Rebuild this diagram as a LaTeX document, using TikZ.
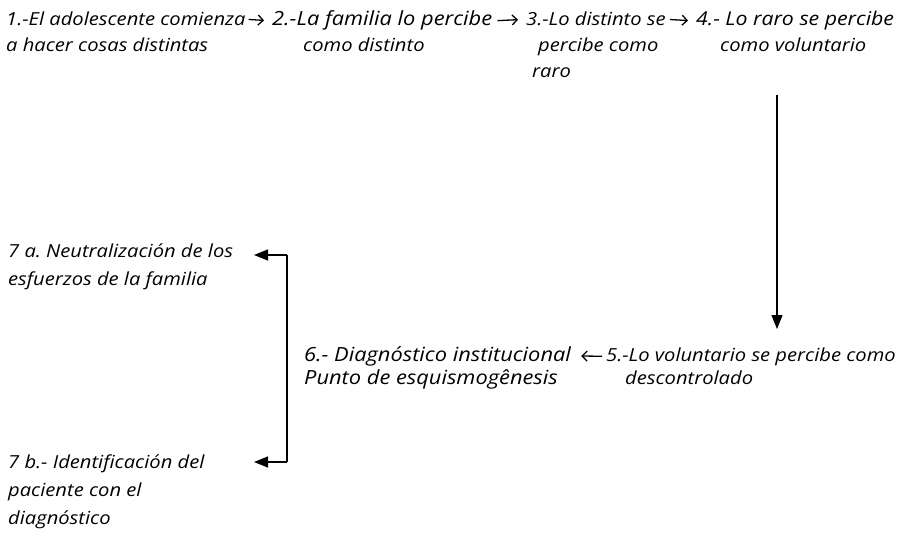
\documentclass[tikz,border=0pt]{standalone}
\usepackage{fontspec}
\setmainfont{Open Sans}[FakeStretch=1.12]
\usetikzlibrary{arrows.meta}
\tikzset{
  txt/.style={anchor=base west, inner sep=0pt, font=\itshape\fontsize{18}{22}\selectfont},
  txtl/.style={anchor=base west, inner sep=0pt, font=\itshape\fontsize{19.5}{22}\selectfont},
  txtm/.style={anchor=base west, inner sep=0pt, font=\itshape\fontsize{19}{22}\selectfont},
  tarr/.style={-{Straight Barb[length=5pt,width=10pt]}, line width=1.3pt},
  tri/.style={-{Triangle[length=14pt,width=11pt]}, line width=1.2pt},
  ln/.style={line width=1.2pt}
}
\begin{document}
\begin{tikzpicture}[x=1pt,y=-1pt]
\useasboundingbox (0,0) rectangle (901,537);
\node[txt] (n1a) at (6,26) {1.-El adolescente comienza};
\node[txt] (n1b) at (6,52) {a hacer cosas distintas};
\node[txtl] (n2a) at (272,26) {2.-La familia lo percibe};
\node[txt] (n2b) at (303,52) {como distinto};
\node[txt] (n3a) at (526,26) {3.-Lo distinto se};
\node[txt] (n3b) at (538,52) {percibe como};
\node[txt] (n3c) at (532,78) {raro};
\node[txtm] (n4a) at (696,26) {4.- Lo raro se percibe};
\node[txt] (n4b) at (720,52) {como voluntario};
\node[txt] (n5a) at (606,361) {5.-Lo voluntario se percibe como};
\node[txt] (n5b) at (625,384) {descontrolado};
\node[txtl] (n6a) at (304,361) {6.- Diagnóstico institucional};
\node[txtl] (n6b) at (304,384) {Punto de esquismogênesis};
\node[txt] (n7a1) at (8,258) {7 a.\ Neutralización de los};
\node[txt] (n7a2) at (8,285) {esfuerzos de la familia};
\node[txt] (n7b1) at (8,468) {7 b.- Identificación del};
\node[txt] (n7b2) at (8,496) {paciente con el};
\node[txt] (n7b3) at (8,524) {diagnóstico};
% top arrows
\draw[tarr, shorten <=3pt, shorten >=8pt] (n1a.east) -- (n2a.west);
\draw[tarr, shorten <=5pt, shorten >=8pt] (n2a.east) -- (n3a.west);
\draw[tarr, shorten <=4pt, shorten >=8pt] (n3a.east) -- (n4a.west);
\draw[tarr, shorten <=4pt, shorten >=10pt] (n5a.west) -- (n6a.east);
% vertical arrow
\coordinate (vtop) at (777,95);
\coordinate (vtip) at (777,329);
\draw[tri] (vtop) -- (vtip);
% bracket
\coordinate (jtop) at (287,255);
\coordinate (jbot) at (287,462);
\coordinate (ttop) at (254,255);
\coordinate (tbot) at (254,462);
\draw[ln] (jtop) -- (jbot);
\draw[tri] (jtop) -- (ttop);
\draw[tri] (jbot) -- (tbot);
\end{tikzpicture}
\end{document}
